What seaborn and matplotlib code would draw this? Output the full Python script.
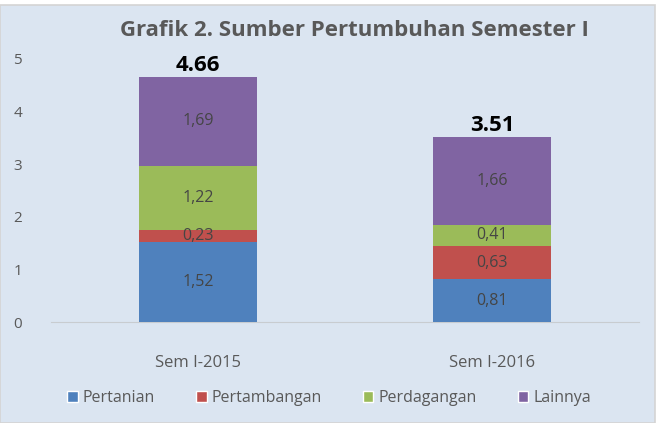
import seaborn as sns
import matplotlib.pyplot as plt
from matplotlib.patches import Patch, Rectangle

periods = ["Sem I-2015", "Sem I-2016"]
sectors = ["Pertanian", "Pertambangan", "Perdagangan", "Lainnya"]
pertanian = [1.52, 0.81]
pertambangan = [0.23, 0.63]
perdagangan = [1.22, 0.41]
lainnya = [1.69, 1.66]
totals = [4.66, 3.51]

colors = ["#4f81bd", "#c0504d", "#9bbb59", "#8064a2"]
bg = "#dbe5f1"

sns.set_style("white")
plt.rcParams["font.family"] = ["Open Sans", "DejaVu Sans"]

fig = plt.figure(figsize=(6.59, 4.23), dpi=100, facecolor="white")
fig.patches.append(Rectangle((0, 0), 655 / 659, 418 / 423, transform=fig.transFigure,
                             facecolor=bg, edgecolor="#d4d4d4", linewidth=1.2, zorder=-10))
ax = fig.add_axes([51 / 659, 101 / 423, 588 / 659, 263 / 423])
ax.set_facecolor("none")

bottom = [0, 0]
for vals, c in zip([pertanian, pertambangan, perdagangan, lainnya], colors):
    sns.barplot(x=periods, y=vals, bottom=bottom, color=c, width=0.4,
                saturation=1, linewidth=0, ax=ax, zorder=3)
    bottom = [b + v for b, v in zip(bottom, vals)]

for cont, vals in zip(ax.containers, [pertanian, pertambangan, perdagangan, lainnya]):
    ax.bar_label(cont, labels=[f"{v:.2f}".replace(".", ",") for v in vals],
                 label_type="center", color="#454545", fontsize=11.5)

for i, t in enumerate(totals):
    ax.text(i, t + 0.02, f"{t:.2f}", ha="center", va="bottom",
            fontsize=16, fontweight="bold", color="black")

ax.set_xlim(-0.5, 1.5)
ax.set_ylim(0, 5)
ax.set_yticks([0, 1, 2, 3, 4, 5])
for s in ["top", "right", "left"]:
    ax.spines[s].set_visible(False)
ax.spines["bottom"].set_color("#c8ccd0")
ax.tick_params(axis="y", length=0, pad=24, labelsize=11, labelcolor="#595959")
ax.tick_params(axis="x", length=0, pad=24, labelsize=12, labelcolor="#595959")
for lab in ax.get_yticklabels():
    lab.set_horizontalalignment("center")
ax.set_ylabel("")

fig.text(354 / 659, 1 - 31 / 423, "Grafik 2. Sumber Pertumbuhan Semester I",
         ha="center", va="center", fontsize=16, fontweight="bold", color="#595959")

handles = [Patch(facecolor=c, label=s) for s, c in zip(sectors, colors)]
fig.legend(handles=handles, loc="center", bbox_to_anchor=(329 / 659, 1 - 398 / 423),
           ncol=4, frameon=False, fontsize=11.5, labelcolor="#595959",
           handlelength=0.65, handleheight=0.65, handletextpad=0.3, columnspacing=2.6)

fig.savefig("out.png", dpi=100, facecolor=fig.get_facecolor())
